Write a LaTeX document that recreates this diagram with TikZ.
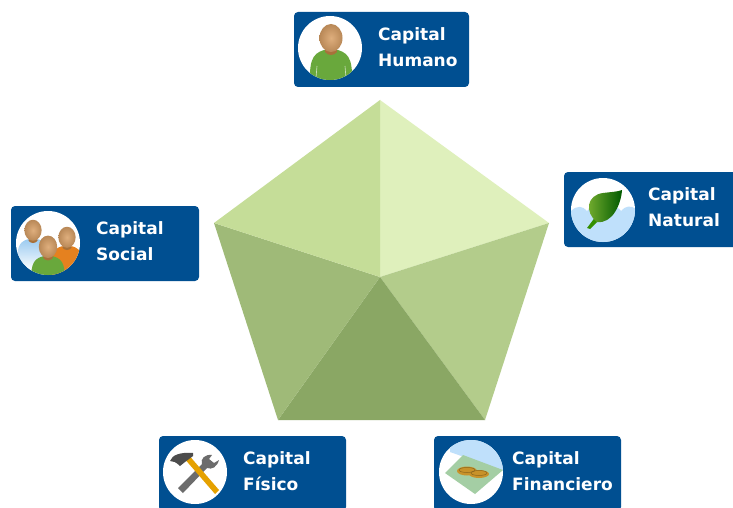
\documentclass[tikz,border=0pt]{standalone}
\usepackage{fontspec}
\setsansfont{DejaVu Sans}
\definecolor{panelblue}{HTML}{004F91}
\definecolor{skin}{HTML}{D9A066}
\definecolor{skindark}{HTML}{A8713A}
\definecolor{water}{HTML}{BFE0FB}
\definecolor{shirtgreen}{HTML}{69A83C}
\definecolor{shirtorange}{HTML}{E5811F}
\definecolor{shirtblue}{HTML}{9CCBF0}
\definecolor{coin}{HTML}{C8922A}
\newcommand{\Person}[4]{%
	\begin{scope}[shift={(#1,#2)},scale=#3]
		\path[#4] (-21,45) .. controls (-22,15) and (-20,7) .. (-7,3) -- (7,3) .. controls (20,7) and (22,15) .. (21,45) -- cycle;
		\fill[skindark] (-5,-3) -- (5,-3) -- (6,5) .. controls (3,9) and (-3,9) .. (-6,5) -- cycle;
		\shade[inner color=skin!85!white,outer color=skin!85!black] (0,-9) ellipse (11.5 and 14);
	\end{scope}
}
\begin{document}
\begin{tikzpicture}
	[
		x=1pt,
		y=-1pt,
		Panel/.style={rectangle, rounded corners=4pt, minimum width=#1, minimum height=75pt, fill=panelblue, draw=none, inner sep=0pt},
		Icon/.style={circle, minimum size=64pt, fill=white, draw=none, inner sep=0pt},
		Label/.style={anchor=west, align=left, text=white, inner sep=0pt, font=\sffamily\bfseries\fontsize{17}{25.5}\selectfont},
		Face/.style={draw=none}
	]
	\useasboundingbox (0,0) rectangle (733,508);
	\fill[white] (0,0) rectangle (733,508);
	% pentagon
	\coordinate (Mid) at (380,277);
	\coordinate (Top) at (380,100);
	\coordinate (East) at (549,223);
	\coordinate (SouthEast) at (485,420);
	\coordinate (SouthWest) at (278,420);
	\coordinate (West) at (214,223);
	\fill[Face, fill={rgb,255:red,223;green,240;blue,188}] (Mid) -- (Top) -- (East) -- cycle;
	\fill[Face, fill={rgb,255:red,179;green,204;blue,139}] (Mid) -- (East) -- (SouthEast) -- cycle;
	\fill[Face, fill={rgb,255:red,138;green,167;blue,100}] (Mid) -- (SouthEast) -- (SouthWest) -- cycle;
	\fill[Face, fill={rgb,255:red,159;green,186;blue,120}] (Mid) -- (SouthWest) -- (West) -- cycle;
	\fill[Face, fill={rgb,255:red,197;green,221;blue,152}] (Mid) -- (West) -- (Top) -- cycle;
	% panels
	\node[Panel=175pt] (Humano) at (381.5,49.5) {};
	\node[Panel=180pt] (Natural) at (654,209.5) {};
	\node[Panel=188pt] (Social) at (105,243.5) {};
	\node[Panel=187pt] (Fisico) at (252.5,473.5) {};
	\node[Panel=187pt] (Financiero) at (527.5,473.5) {};
	% icons
	\node[Icon] (IconHumano) at (330,48) {};
	\node[Icon] (IconNatural) at (603,210) {};
	\node[Icon] (IconSocial) at (48,243) {};
	\node[Icon] (IconFisico) at (195,472) {};
	\node[Icon] (IconFinanciero) at (471,472) {};
	\begin{scope}
		\clip (IconHumano) circle (32);
		\Person{331}{47}{1}{fill=shirtgreen}
		\draw[white!70!shirtgreen, line width=0.6pt] (317,66) -- (316,78) (345,66) -- (346,78);
	\end{scope}
	\begin{scope}
		\clip (IconNatural) circle (32);
		\fill[water] (571,211) .. controls (577,205) and (583,206) .. (587,211) .. controls (592,205) and (600,205) .. (604,211) .. controls (609,205) and (617,205) .. (621,211) .. controls (625,206) and (631,205) .. (636,209) -- (636,245) -- (571,245) -- cycle;
		\fill[green!45!black!80!yellow] (587,228) -- (590,229) -- (601,218) -- (596,216) -- cycle;
		\shade[left color=shirtgreen!85!yellow, right color=green!35!black] (597,222) .. controls (584,212) and (587,195) .. (603,193) .. controls (610,192) and (617,192) .. (622,190) .. controls (621,205) and (612,224) .. (597,222) -- cycle;
	\end{scope}
	\begin{scope}
		\clip (IconSocial) circle (32);
		\Person{33}{237}{0.75}{top color=shirtblue, bottom color=white}
		\Person{67}{244}{0.75}{fill=shirtorange}
		\Person{48}{254}{0.8}{fill=shirtgreen}
	\end{scope}
	\begin{scope}
		\clip (IconFisico) circle (32);
		\fill[gray!85!black] (178,488) -- (183,493) -- (207,468) .. controls (212,470) and (217,467) .. (219,460) -- (214,463) -- (209,459) -- (212,455) .. controls (205,454) and (200,459) .. (202,464) -- cycle;
		\fill[orange!60!yellow!90!black] (183,457) -- (187,453) -- (219,490) -- (215,494) -- cycle;
		\fill[gray!60!black] (170,461) .. controls (172,455) and (180,452) .. (193,453) -- (193,456) -- (185,462) -- (180,466) .. controls (176,462) and (173,461) .. (170,461) -- cycle;
	\end{scope}
	\begin{scope}
		\clip (IconFinanciero) circle (32);
		\fill[water] (450,452) -- (504,471) -- (510,435) -- (450,435) -- cycle;
		\fill[green!30!gray!55!white] (445,473) -- (463,455) -- (503,470) -- (475,494) -- cycle;
		\fill[coin] (467,471) ellipse (10 and 4.5);
		\fill[coin] (479,474) ellipse (10 and 4);
		\draw[coin!70!black, line width=0.5pt] (467,470) ellipse (8 and 2.5);
		\draw[coin!70!black, line width=0.5pt] (479,473) ellipse (8 and 2.5);
	\end{scope}
	% labels
	\node[Label] (TextHumano) at (378,47) {Capital\\Humano};
	\node[Label] (TextNatural) at (648,207) {Capital\\Natural};
	\node[Label] (TextSocial) at (96,241) {Capital\\Social};
	\node[Label] (TextFisico) at (243,471) {Capital\\Físico};
	\node[Label] (TextFinanciero) at (512,471) {Capital\\Financiero};
\end{tikzpicture}
\end{document}
